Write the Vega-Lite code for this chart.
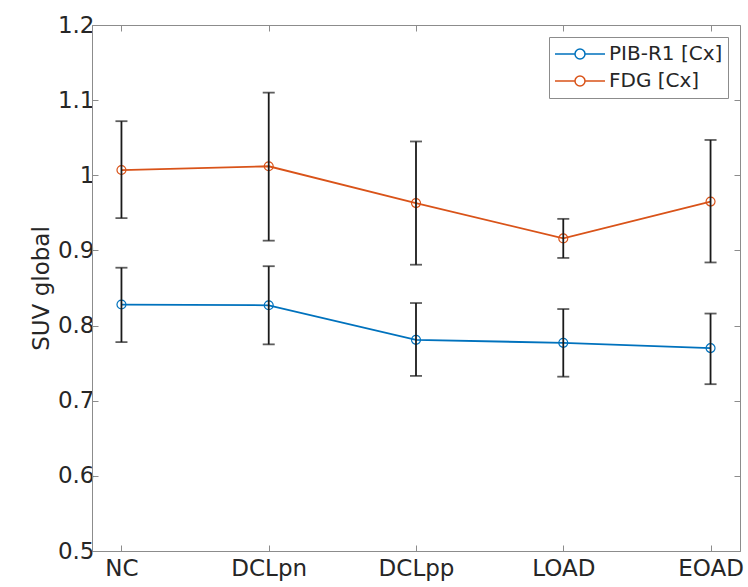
{
  "$schema": "https://vega.github.io/schema/vega-lite/v6.json",
  "autosize": "none",
  "width": 648,
  "height": 526,
  "padding": {"left": 92, "top": 25, "right": 8, "bottom": 36},
  "background": "white",
  "config": {
    "font": "DejaVu Sans",
    "view": {"stroke": "#8c8c8c", "strokeWidth": 1},
    "axis": {
      "domainColor": "#8c8c8c",
      "tickColor": "#8c8c8c",
      "tickSize": -6,
      "labelColor": "#262626",
      "labelFontSize": 23,
      "titleFontSize": 23,
      "titleFontWeight": "normal",
      "titleColor": "#262626",
      "grid": false
    },
    "legend": {
      "labelFontSize": 20,
      "labelColor": "#262626",
      "strokeColor": "#8c8c8c",
      "fillColor": "white",
      "padding": 5,
      "rowPadding": 3,
      "labelOffset": 3,
      "clipHeight": 24,
      "symbolStrokeWidth": 1.5
    }
  },
  "data": {
    "values": [
      {"group": "NC", "series": "PIB-R1 [Cx]", "mean": 0.828, "lo": 0.778, "hi": 0.877},
      {"group": "DCLpn", "series": "PIB-R1 [Cx]", "mean": 0.827, "lo": 0.775, "hi": 0.879},
      {"group": "DCLpp", "series": "PIB-R1 [Cx]", "mean": 0.781, "lo": 0.733, "hi": 0.830},
      {"group": "LOAD", "series": "PIB-R1 [Cx]", "mean": 0.777, "lo": 0.732, "hi": 0.822},
      {"group": "EOAD", "series": "PIB-R1 [Cx]", "mean": 0.770, "lo": 0.722, "hi": 0.816},
      {"group": "NC", "series": "FDG [Cx]", "mean": 1.007, "lo": 0.943, "hi": 1.072},
      {"group": "DCLpn", "series": "FDG [Cx]", "mean": 1.012, "lo": 0.913, "hi": 1.110},
      {"group": "DCLpp", "series": "FDG [Cx]", "mean": 0.963, "lo": 0.881, "hi": 1.045},
      {"group": "LOAD", "series": "FDG [Cx]", "mean": 0.916, "lo": 0.890, "hi": 0.942},
      {"group": "EOAD", "series": "FDG [Cx]", "mean": 0.965, "lo": 0.884, "hi": 1.047}
    ]
  },
  "encoding": {
    "x": {
      "field": "group",
      "type": "ordinal",
      "sort": ["NC", "DCLpn", "DCLpp", "LOAD", "EOAD"],
      "scale": {"type": "point", "padding": 0.2},
      "axis": null
    }
  },
  "layer": [
    {
      "mark": {"type": "line", "strokeWidth": 1.8, "point": {"filled": false, "size": 80, "strokeWidth": 1.2}},
      "encoding": {
        "x": {
          "field": "group",
          "type": "ordinal",
          "sort": ["NC", "DCLpn", "DCLpp", "LOAD", "EOAD"],
          "scale": {"type": "point", "padding": 0.2},
          "axis": {"orient": "bottom", "title": null, "labelAngle": 0, "labelPadding": 12}
        },
        "y": {
          "field": "mean",
          "type": "quantitative",
          "scale": {"domain": [0.5, 1.2], "nice": false, "zero": false},
          "axis": {"orient": "left", "title": "SUV global", "values": [0.5, 0.6, 0.7, 0.8, 0.9, 1.0, 1.1, 1.2], "format": "~g", "titlePadding": 4, "labelPadding": 4}
        },
        "color": {
          "field": "series",
          "type": "nominal",
          "scale": {"domain": ["PIB-R1 [Cx]", "FDG [Cx]"], "range": ["#0072BD", "#D95319"]},
          "legend": {
            "title": null,
            "orient": "top-right",
            "offset": 12,
            "symbolType": "M-1,0H-0.2M0.2,0H1M0.2,0A0.2,0.2 0 1,0 -0.2,0A0.2,0.2 0 1,0 0.2,0",
            "symbolSize": 2500,
            "symbolFillColor": "transparent"
          }
        }
      }
    },
    {
      "mark": {"type": "rule", "color": "#1a1a1a", "strokeWidth": 1.8},
      "encoding": {
        "y": {"field": "lo", "type": "quantitative", "axis": null},
        "y2": {"field": "hi"}
      }
    },
    {
      "mark": {"type": "tick", "color": "#1a1a1a", "thickness": 1.8, "size": 12},
      "encoding": {"y": {"field": "lo", "type": "quantitative", "axis": null}}
    },
    {
      "mark": {"type": "tick", "color": "#1a1a1a", "thickness": 1.8, "size": 12},
      "encoding": {
        "x": {
          "field": "group",
          "type": "ordinal",
          "sort": ["NC", "DCLpn", "DCLpp", "LOAD", "EOAD"],
          "scale": {"type": "point", "padding": 0.2},
          "axis": {"orient": "top", "labels": false, "title": null, "domain": false}
        },
        "y": {"field": "hi", "type": "quantitative", "axis": {"orient": "right", "labels": false, "title": null, "values": [0.5, 0.6, 0.7, 0.8, 0.9, 1.0, 1.1, 1.2], "domain": false}}
      }
    }
  ],
  "resolve": {"axis": {"y": "independent", "x": "independent"}}
}
